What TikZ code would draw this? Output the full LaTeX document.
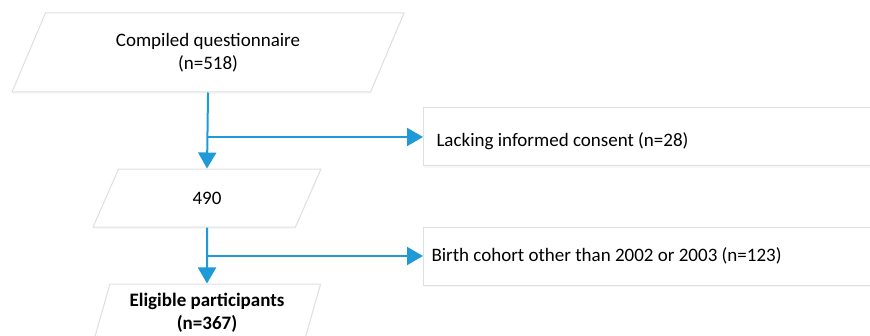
\documentclass[tikz,border=0pt]{standalone}
\usepackage{fontspec}
\setmainfont{Carlito}
\usetikzlibrary{positioning}
\usetikzlibrary{shapes.geometric}
\usetikzlibrary{arrows.meta}
\usetikzlibrary{shadows}
\definecolor{flowblue}{HTML}{1E9AD8}
\definecolor{boxgray}{HTML}{DCE0E3}

\begin{document}
\begin{tikzpicture}
 [ x=0.5pt
 , y=-0.5pt
 , font=\fontsize{9.5}{11.5}\selectfont
 , soft shadow/.style={drop shadow={shadow xshift=0pt, shadow yshift=-1pt, opacity=0.06}}
 , step box/.style={draw=boxgray, line width=0.5pt, fill=white, soft shadow,
     shape=trapezium, trapezium left angle=64, trapezium right angle=116,
     trapezium stretches=true, inner sep=0pt, align=center}
 , small step/.style={step box, minimum width=114pt, minimum height=29pt,
     trapezium left angle=71.5, trapezium right angle=108.5}
 , excluded/.style={draw=boxgray, line width=0.5pt, fill=white, soft shadow,
     rectangle, anchor=west, minimum width=240pt, minimum height=29pt,
     align=flush left}
 , flow/.style={draw=flowblue, line width=1pt}
 , flow arrow/.style={flow, -{Triangle[length=8pt, width=9pt]}}
 ]
  \useasboundingbox (0,0) rectangle (870,336);

  \node [step box, minimum width=196pt, minimum height=39.5pt] (compiled) at (208,52.5)
    {Compiled questionnaire\\(n=518)};
  \node [small step] (remaining) at (207,198) {490};
  \node [small step] (eligible) at (207,313)
    {\bfseries Eligible participants\\\bfseries(n=367)};

  \node [excluded, inner xsep=6.5pt, text width=227pt, text height=12pt, text depth=2.4pt]
    (consent) at (423,137) {Lacking informed consent (n=28)};
  \node [excluded, inner xsep=4pt, text width=232pt]
    (cohort) at (423,256) {Birth cohort other than 2002 or 2003 (n=123)};

  \coordinate (split 1) at (compiled.south |- consent.west);
  \coordinate (split 2) at (remaining.south |- cohort.west);

  \draw [flow arrow] (compiled.south) -- (remaining.north);
  \draw [flow arrow] (split 1) -- (consent.west);
  \draw [flow arrow] (remaining.south) -- (eligible.north);
  \draw [flow arrow] (split 2) -- (cohort.west);
\end{tikzpicture}
\end{document}
